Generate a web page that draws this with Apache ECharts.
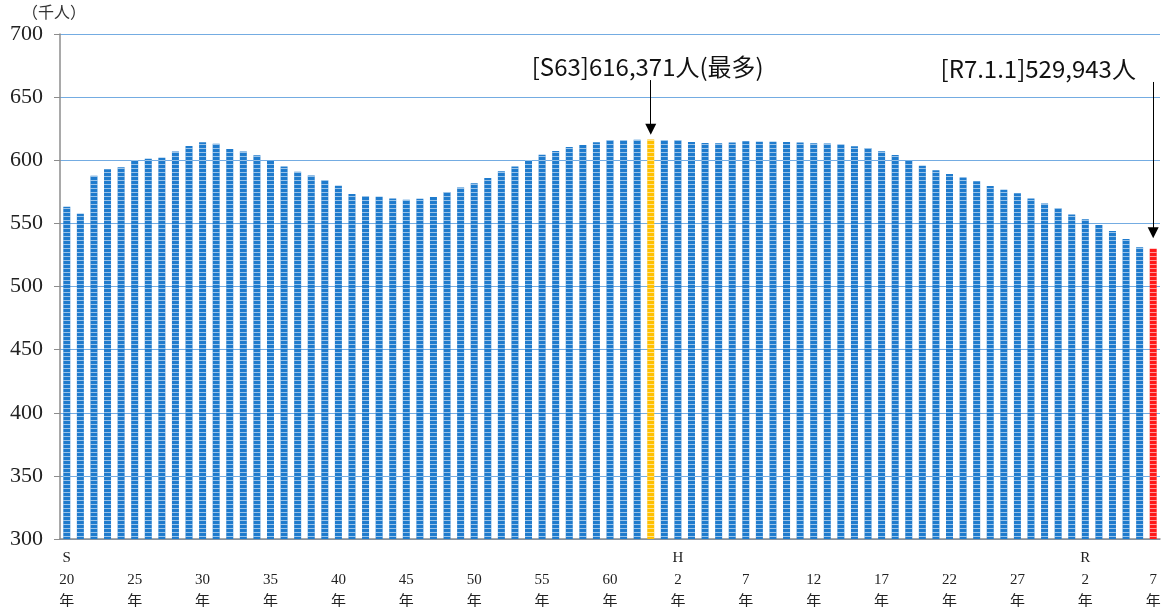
<!DOCTYPE html>
<html>
<head>
<meta charset="utf-8">
<script src="https://cdn.jsdelivr.net/npm/echarts@6/dist/echarts.min.js"></script>
<style>
  html, body { margin: 0; padding: 0; background: #fff; }
  #chart { width: 1164px; height: 607px; }
</style>
</head>
<body>
<div id="chart"></div>
<script>
// years S20 (1945) .. R7 (2025)
const categories = [
  'S20','S21','S22','S23','S24','S25','S26','S27','S28','S29',
  'S30','S31','S32','S33','S34','S35','S36','S37','S38','S39',
  'S40','S41','S42','S43','S44','S45','S46','S47','S48','S49',
  'S50','S51','S52','S53','S54','S55','S56','S57','S58','S59',
  'S60','S61','S62','S63',
  'H1','H2','H3','H4','H5','H6','H7','H8','H9','H10',
  'H11','H12','H13','H14','H15','H16','H17','H18','H19','H20',
  'H21','H22','H23','H24','H25','H26','H27','H28','H29','H30',
  'R1','R2','R3','R4','R5','R6','R7'
]

// population, thousands
const population = [
  563.2, 557.6, 587.7, 592.8, 594.4, 600.2, 601.2, 602.0, 607.0, 611.3,
  614.2, 613.1, 608.9, 607.0, 603.9, 599.4, 595.1, 590.9, 588.0, 584.1,
  579.8, 573.2, 571.6, 571.1, 569.8, 568.7, 569.5, 570.8, 574.8, 578.5,
  581.7, 585.9, 591.2, 595.1, 600.2, 604.4, 607.3, 610.5, 612.0, 614.2,
  615.8, 615.9, 616.2, 616.371,
  615.8, 615.8, 614.5, 613.7, 613.4, 614.0, 615.0, 614.7, 614.7, 614.5,
  614.0, 613.4, 613.2, 612.4, 611.1, 609.8, 607.1, 604.1, 599.9, 595.7,
  592.0, 589.1, 586.4, 583.3, 579.6, 576.7, 573.8, 569.8, 565.8, 561.9,
  557.1, 553.2, 548.7, 543.9, 537.6, 531.0, 529.943
]

const yTicks = [300, 350, 400, 450, 500, 550, 600, 650, 700]
const eraMarks = ['S20', 'H2', 'R2']   // labels that show the era letter
const peakCat = 'S63'
const latestCat = 'R7'

// annotation: category, text, arrow start / tip (thousands)
const notes = [
  { cat: 'S63', text: '[S63]616,371人(最多)', from: 663.5, to: 624.5, dx: -3 },
  { cat: 'R7', text: '[R7.1.1]529,943人', from: 662, to: 542.5, dx: -115 }
]

const chart = echarts.init(document.getElementById('chart'))

const serif = "'Liberation Serif', 'Noto Sans CJK JP', serif"
const gothic = "'Noto Sans CJK JP', sans-serif"

chart.setOption({
  animation: false,
  backgroundColor: '#fff',
  grid: { left: 60, right: 4, top: 34, bottom: 68, outerBoundsMode: 'none' },
  xAxis: {
    type: 'category',
    data: categories,
    axisLine: { lineStyle: { color: '#8c8c8c', width: 1.5 } },
    axisTick: { show: false },
    axisLabel: {
      interval: 4,
      margin: 8,
      color: '#222',
      fontFamily: serif,
      fontSize: 15,
      lineHeight: 22,
      formatter: (v) => {
        const era = eraMarks.includes(v) ? v[0] : ' '
        return era + '\n' + v.slice(1) + '\n年'
      }
    }
  },
  yAxis: {
    type: 'value',
    min: yTicks[0],
    max: yTicks[yTicks.length - 1],
    interval: yTicks[1] - yTicks[0],
    axisLine: { show: true, lineStyle: { color: '#8c8c8c', width: 1.5 } },
    axisTick: { show: true, length: 6, lineStyle: { color: '#8c8c8c' } },
    axisLabel: { color: '#222', fontFamily: serif, fontSize: 22, margin: 17 },
    splitLine: { lineStyle: { color: '#74ace2', width: 1 } }
  },
  series: [
    {
      type: 'bar',
      data: population,
      barWidth: 7,
      itemStyle: {
        color: (p) => {
          if (p.name === peakCat) return '#ffc000'
          if (p.name === latestCat) return '#ff1a1a'
          return '#1f7bcd'
        },
        decal: {
          symbol: 'rect',
          symbolSize: 1,
          color: 'rgba(255,255,255,0.55)',
          dashArrayX: [1, 0],
          dashArrayY: [1, 2.5],
          rotation: 0
        }
      },
      markLine: {
        silent: true,
        symbol: ['none', 'triangle'],
        symbolSize: 11,
        lineStyle: { color: '#000', width: 1, type: 'solid' },
        itemStyle: { color: '#000' },
        label: { show: false },
        data: notes.map((n) => [
          { coord: [n.cat, n.from] },
          { coord: [n.cat, n.to] }
        ])
      }
    }
  ]
})

// unit and annotation texts, the latter placed from data coordinates
const texts = notes.map((n, i) => {
  const p = chart.convertToPixel({ seriesIndex: 0 }, [n.cat, n.from])
  return {
    id: 'note' + i,
    type: 'text',
    x: p[0] + n.dx,
    y: p[1] - 1,
    style: {
      text: n.text,
      fontFamily: gothic,
      fontSize: 24,
      fill: '#111',
      textAlign: 'center',
      textVerticalAlign: 'bottom'
    }
  }
})
texts.push({
  id: 'unit',
  type: 'text',
  x: 22,
  y: 4,
  style: { text: '（千人）', fontFamily: gothic, fontSize: 16, fill: '#333' }
})
chart.setOption({ graphic: texts })
</script>
</body>
</html>
